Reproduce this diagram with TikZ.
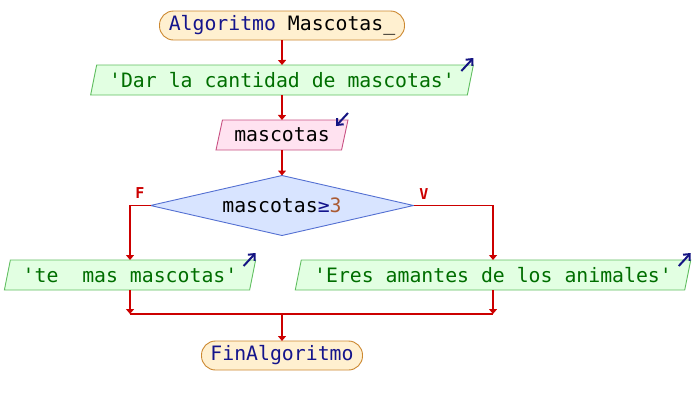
\documentclass[tikz,border=0pt]{standalone}
\usepackage{fontspec}
\usetikzlibrary{shapes.geometric,arrows.meta}
\newfontfamily\pmono{DejaVu Sans Mono}
\definecolor{termfill}{RGB}{255,240,208}
\definecolor{termdraw}{RGB}{204,136,48}
\definecolor{outfill}{RGB}{226,255,226}
\definecolor{outdraw}{RGB}{96,190,96}
\definecolor{infill}{RGB}{255,226,240}
\definecolor{indraw}{RGB}{200,80,130}
\definecolor{diafill}{RGB}{216,228,255}
\definecolor{diadraw}{RGB}{84,112,210}
\definecolor{kw}{RGB}{20,20,140}
\definecolor{strc}{RGB}{0,110,0}
\definecolor{numc}{RGB}{170,90,50}
\definecolor{flow}{RGB}{204,0,0}
\definecolor{icon}{RGB}{20,20,130}
\tikzset{
  x=1pt,y=-1pt,
  base/.style={font=\pmono\fontsize{19.8}{22}\selectfont, inner sep=0pt, outer sep=0pt, line width=0.9pt},
  term/.style={base, draw=termdraw, fill=termfill, rectangle, rounded corners=14pt, minimum height=29pt},
  outbox/.style={base, draw=outdraw, fill=outfill, trapezium, trapezium left angle=70, trapezium right angle=110, trapezium stretches=true, minimum height=30pt, text=strc},
  inbox/.style={base, draw=indraw, fill=infill, trapezium, trapezium left angle=70, trapezium right angle=110, trapezium stretches=true, minimum height=30pt},
  decision/.style={base, draw=diadraw, fill=diafill, diamond, aspect=4.4, minimum width=263pt, minimum height=60pt},
  conn/.style={draw=flow, line width=1.9pt, -{Triangle[length=5pt,width=8pt]}},
  connplain/.style={draw=flow, line width=1.9pt},
  iconarrow/.style={draw=icon, line width=2pt, -{Straight Barb[length=5pt,width=9pt]}},
  branchlabel/.style={text=flow, font=\pmono\bfseries\fontsize{15}{17}\selectfont, inner sep=0pt}
}
\begin{document}
\begin{tikzpicture}
\useasboundingbox (0,0) rectangle (696,405);
\node[term, minimum width=245pt] (start) at (282,25.5) {\textcolor{kw}{Algoritmo} Mascotas\_};
\node[outbox, minimum width=384pt] (out1) at (282,80) {'Dar la cantidad de mascotas'};
\node[inbox, minimum width=132pt] (in1) at (282,135) {mascotas};
\node[decision] (dia) at (282,205.5) {mascotas\textcolor{kw}{≥}\textcolor{numc}{3}};
\node[outbox, minimum width=252pt] (outL) at (130,275) {'te\ \ mas mascotas'};
\node[outbox, minimum width=397pt] (outR) at (493,275) {'Eres amantes de los animales'};
\node[term, minimum width=161pt] (fin) at (282,355.5) {\textcolor{kw}{FinAlgoritmo}};
\node[branchlabel] (lf) at (140,193) {F};
\node[branchlabel] (lv) at (424,194) {V};
\coordinate (mL) at (130,314);
\coordinate (mR) at (493,314);
\coordinate (mC) at (282,314);
% connectors
\draw[conn] (start.south) -- (out1.north);
\draw[conn] (out1.south) -- (in1.north);
\draw[conn] (in1.south) -- (dia.north);
\draw[conn] (dia.west) -| (outL.north);
\draw[conn] (dia.east) -| (outR.north);
\draw[conn] (outL.south) -- (mL);
\draw[conn] (outR.south) -- (mR);
\draw[connplain] (mL) -- (mR);
\draw[conn] (mC) -- (fin.north);
% io icons
\draw[iconarrow] ([shift={(-12,6)}]out1.top right corner) -- ([shift={(0,-7)}]out1.top right corner);
\draw[iconarrow] ([shift={(0,-7)}]in1.top right corner) -- ([shift={(-12,6)}]in1.top right corner);
\draw[iconarrow] ([shift={(-12,6)}]outL.top right corner) -- ([shift={(0,-7)}]outL.top right corner);
\draw[iconarrow] ([shift={(-12,6)}]outR.top right corner) -- ([shift={(0,-7)}]outR.top right corner);
\end{tikzpicture}
\end{document}
